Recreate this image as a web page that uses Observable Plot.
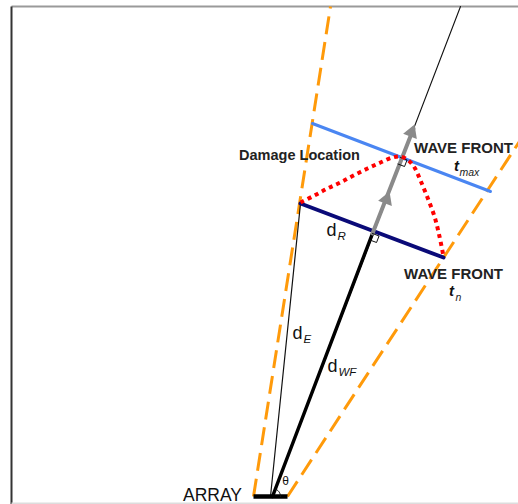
<!DOCTYPE html>
<html>
<head>
<meta charset="utf-8">
<script src="https://cdn.jsdelivr.net/npm/d3@7"></script>
<script src="https://cdn.jsdelivr.net/npm/@observablehq/plot@0.6"></script>
<style>
  html, body { margin: 0; padding: 0; background: #fff; }
  #chart svg { display: block; }
</style>
</head>
<body>
<div id="chart"></div>
<script>
// ---- diagram geometry (picture pixel units, y downward) ----
const apex = {x: 272, y: 496};
const damage = {x: 300, y: 203};                 // damage location (left end of d_R)
const frontNRight = {x: 443, y: 257};            // right end of wave front t_n
const frontMaxEnds = [{x: 312, y: 123}, {x: 490, y: 191}];
const axisTop = {x: 460, y: 6};
const arrowShaft = [{x: 372, y: 233}, {x: 413, y: 128}];
const arrowHeads = [{x: 386, y: 199}, {x: 411, y: 132}];
const baseBar = [{x: 253, y: 496}, {x: 287, y: 496}];
const coneEdges = [
  {x1: 253, y1: 496, x2: 330, y2: 6},
  {x1: 287, y1: 496, x2: 530, y2: 124}
];
const border = [
  {x1: 11, y1: 6, x2: 518, y2: 6, c: "#9a9a9a"},
  {x1: 11, y1: 6, x2: 11, y2: 504, c: "#333333"},
  {x1: 11, y1: 503, x2: 518, y2: 503, c: "#dddddd"}
];
// red dotted locus
const locusX = [300, 314, 327, 340, 353, 367, 380, 392, 400, 408, 414, 420, 427, 434, 439, 443];
const locusY = [202, 195, 188, 182, 175, 168, 162, 157, 156, 160, 167, 180, 197, 216, 236, 256];
const bigLabels = [
  {x: 299, y: 155, t: "Damage Location", s: 14.5},
  {x: 463, y: 148, t: "WAVE FRONT", s: 15},
  {x: 453, y: 274, t: "WAVE FRONT", s: 15}
];
const mainSymbols = [
  {x: 331, y: 230, t: "d"}, {x: 297, y: 333, t: "d"}, {x: 332, y: 366, t: "d"}
];
const subSymbols = [
  {x: 337, y: 236, t: "R"}, {x: 303, y: 339, t: "E"}, {x: 338, y: 372, t: "WF"}
];
const timeSymbols = [{x: 456, y: 166, t: "t"}, {x: 451, y: 291, t: "t"}];
const timeSubs = [{x: 459, y: 172, t: "max"}, {x: 455, y: 297, t: "n"}];
const arrayLabel = [{x: 212, y: 495, t: "ARRAY"}];
const thetaLabel = [{x: 285, y: 481, t: "θ"}];

// ---- derived geometry helpers ----
const axisDir = (() => { const dx = axisTop.x - apex.x, dy = axisTop.y - apex.y, L = Math.hypot(dx, dy); return {x: dx / L, y: dy / L}; })();
const frontDir = (() => { const dx = frontNRight.x - damage.x, dy = frontNRight.y - damage.y, L = Math.hypot(dx, dy); return {x: dx / L, y: dy / L}; })();
const locus = locusX.map((x, i) => ({x, y: locusY[i]}));
function rightAngle(p, s) {
  return [p,
    {x: p.x + s * frontDir.x, y: p.y + s * frontDir.y},
    {x: p.x + s * frontDir.x - s * axisDir.x, y: p.y + s * frontDir.y - s * axisDir.y},
    {x: p.x - s * axisDir.x, y: p.y - s * axisDir.y}];
}
const corner1 = rightAngle({x: 372, y: 233}, 7);
const corner2 = rightAngle({x: 400, y: 157}, 7);
const axisAngle = Math.atan2(-axisDir.y, axisDir.x);
const thetaArc = d3.range(0, 1.0001, 0.1).map(f => ({
  x: apex.x + 8 * Math.cos(f * axisAngle), y: apex.y - 8 * Math.sin(f * axisAngle)
}));
const rotateDeg = Math.atan2(axisDir.x, -axisDir.y) * 180 / Math.PI;

const font = "Liberation Sans, Arial, Helvetica, sans-serif";

const chart = Plot.plot({
  width: 518, height: 504,
  margin: 0,
  x: {domain: [0, 518], range: [0, 518], axis: null},
  y: {domain: [0, 504], range: [0, 504], axis: null},
  style: {fontFamily: font, background: "#fff"},
  marks: [
    Plot.link(border, {x1: "x1", y1: "y1", x2: "x2", y2: "y2", stroke: d => d.c, strokeWidth: 2}),
    Plot.link(coneEdges, {x1: "x1", y1: "y1", x2: "x2", y2: "y2", stroke: "#ff9a0a", strokeWidth: 3, strokeDasharray: "18,8", strokeLinecap: "butt"}),
    // thin axis line and d_E line
    Plot.line([apex, axisTop], {x: "x", y: "y", stroke: "#111", strokeWidth: 1.1}),
    Plot.line([{x: 270, y: 496}, damage], {x: "x", y: "y", stroke: "#111", strokeWidth: 1.2}),
    // wave fronts
    Plot.line(frontMaxEnds, {x: "x", y: "y", stroke: "#4a86f2", strokeWidth: 3}),
    Plot.line([damage, frontNRight], {x: "x", y: "y", stroke: "#0a0a78", strokeWidth: 4}),
    // d_WF thick line
    Plot.line([apex, arrowShaft[0]], {x: "x", y: "y", stroke: "#000", strokeWidth: 3.5}),
    // gray arrow
    Plot.line(arrowShaft, {x: "x", y: "y", stroke: "#8a8a8a", strokeWidth: 4}),
    Plot.dot(arrowHeads, {x: "x", y: "y", symbol: "triangle2", r: 7, fill: "#8a8a8a", rotate: rotateDeg}),
    // right-angle markers
    Plot.line(corner1, {x: "x", y: "y", stroke: "#111", strokeWidth: 1}),
    Plot.line(corner2, {x: "x", y: "y", stroke: "#111", strokeWidth: 1}),
    // red dotted locus
    Plot.line(locus, {x: "x", y: "y", stroke: "#ff0000", strokeWidth: 4, strokeDasharray: "4,4", strokeLinecap: "butt", curve: "catmull-rom"}),
    // base bar & theta arc
    Plot.line(baseBar, {x: "x", y: "y", stroke: "#000", strokeWidth: 4.5, strokeLinecap: "butt"}),
    Plot.line(thetaArc, {x: "x", y: "y", stroke: "#111", strokeWidth: 1}),
    // labels
    Plot.text(bigLabels, {x: "x", y: "y", text: "t", fontSize: d => d.s, fontWeight: "bold", fill: "#222"}),
    Plot.text(mainSymbols, {x: "x", y: "y", text: "t", fontSize: 18, fill: "#111"}),
    Plot.text(subSymbols, {x: "x", y: "y", text: "t", fontSize: 11.5, fontStyle: "italic", fill: "#111", textAnchor: "start"}),
    Plot.text(timeSymbols, {x: "x", y: "y", text: "t", fontSize: 15, fontWeight: "bold", fontStyle: "italic", fill: "#111"}),
    Plot.text(timeSubs, {x: "x", y: "y", text: "t", fontSize: 10.5, fontStyle: "italic", fill: "#222", textAnchor: "start"}),
    Plot.text(arrayLabel, {x: "x", y: "y", text: "t", fontSize: 17.5, fill: "#111"}),
    Plot.text(thetaLabel, {x: "x", y: "y", text: "t", fontSize: 12, fill: "#111"})
  ]
});
document.getElementById("chart").appendChild(chart);
</script>
</body>
</html>
